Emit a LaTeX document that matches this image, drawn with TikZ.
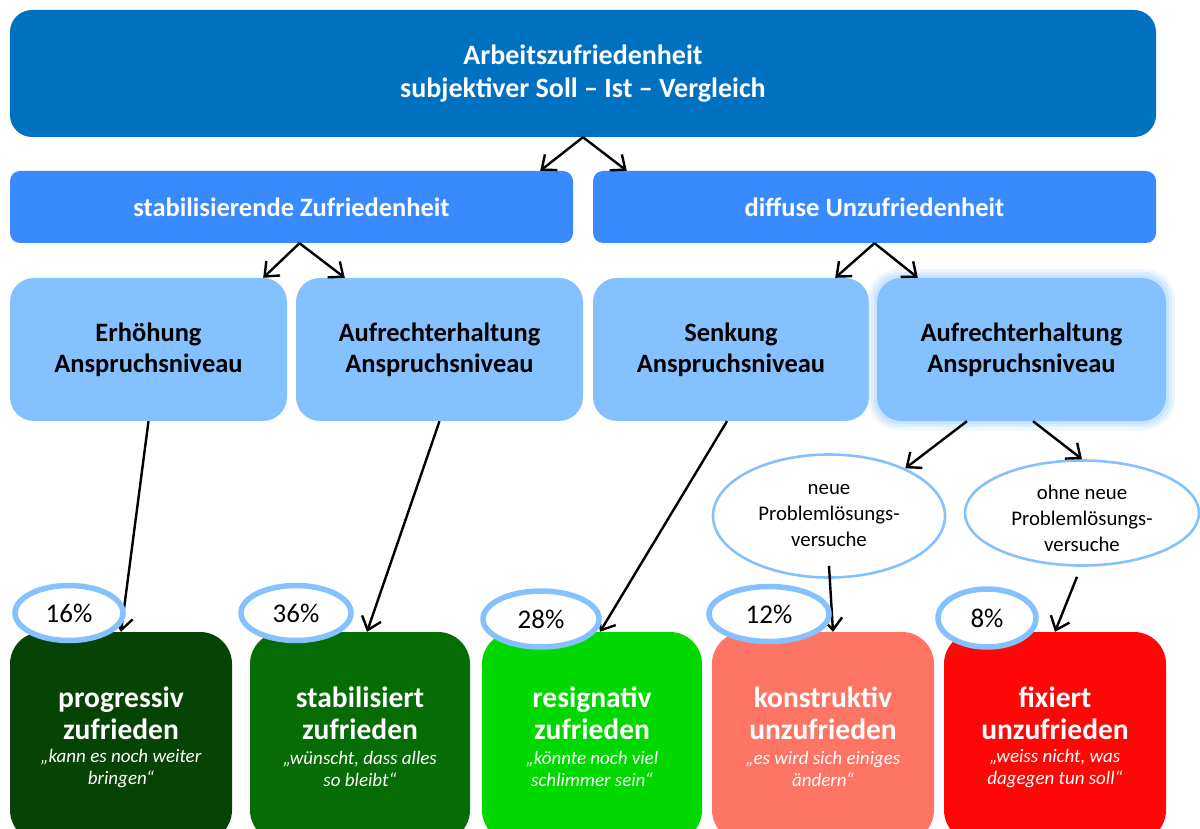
\documentclass[tikz,border=0pt]{standalone}
\usepackage{fontspec}
\setmainfont{Carlito}
\usetikzlibrary{arrows.meta,shapes.geometric,calc}
\definecolor{topblue}{HTML}{0070C0}
\definecolor{midblue}{HTML}{3A8AFF}
\definecolor{lightblue}{HTML}{85C1FF}
\definecolor{glowblue}{HTML}{B8DBFF}
\definecolor{gdark}{HTML}{054405}
\definecolor{gmid}{HTML}{066C06}
\definecolor{glight}{HTML}{00D800}
\definecolor{salmon}{HTML}{FF7565}
\definecolor{redbox}{HTML}{FF0707}
\begin{document}
\begin{tikzpicture}[x=1pt,y=-1pt,
  topbox/.style={rectangle, rounded corners=22pt, fill=topblue, inner sep=0pt, align=center,
    text=white, font=\fontsize{28}{33}\selectfont\bfseries},
  midbox/.style={rectangle, rounded corners=10pt, fill=midblue, inner sep=0pt, align=center,
    text=white, font=\fontsize{26.5}{30}\selectfont\bfseries, minimum width=563pt, minimum height=72pt},
  lvlbox/.style={rectangle, rounded corners=24pt, fill=lightblue, inner sep=0pt, align=center,
    text=black, font=\fontsize{26.5}{31}\selectfont\bfseries, minimum height=143pt},
  resbox/.style={rectangle, rounded corners=32pt, inner sep=0pt, minimum width=222pt, minimum height=210pt},
  restitle/.style={align=center, text=white, inner sep=0pt, font=\fontsize{29.5}{32}\selectfont\bfseries},
  resquote/.style={align=center, text=white, inner sep=0pt, font=\fontsize{19}{22}\selectfont\itshape},
  optell/.style={ellipse, draw=lightblue, line width=2.6pt, fill=white, inner sep=0pt},
  opttext/.style={align=center, inner sep=0pt, font=\fontsize{20.8}{26}\selectfont},
  pct/.style={ellipse, draw=lightblue, line width=5.5pt, fill=white, inner sep=0pt,
    font=\fontsize{27}{30}\selectfont},
  conn/.style={line width=2.4pt, -{Straight Barb[length=12pt,width=20pt,line width=2.4pt]}},
]
\useasboundingbox (0,0) rectangle (1200,829);
\clip (0,0) rectangle (1200,829);

% top
\node[topbox, minimum width=1146pt, minimum height=127pt] (top) at (583,73.5)
  {Arbeitszufriedenheit\\subjektiver Soll -- Ist -- Vergleich};

% level 2
\node[midbox] (sz) at (291.5,207) {stabilisierende Zufriedenheit};
\node[midbox] (du) at (874.5,207) {diffuse Unzufriedenheit};

% level 3
\node[lvlbox, minimum width=277pt] (e1) at (148.5,349.5) {Erhöhung\\Anspruchsniveau};
\node[lvlbox, minimum width=287pt] (e2) at (439.5,349.5) {Aufrechterhaltung\\Anspruchsniveau};
\node[lvlbox, minimum width=276pt] (e3) at (731,349.5) {Senkung\\Anspruchsniveau};
\fill[glowblue, opacity=0.25, rounded corners=31pt] (868,269) rectangle (1175,430);
\fill[glowblue, opacity=0.35, rounded corners=28pt] (871,272) rectangle (1172,427);
\fill[glowblue, opacity=0.5, rounded corners=26pt] (874,275) rectangle (1169,424);
\node[lvlbox, minimum width=289pt] (e4) at (1021.5,349.5) {Aufrechterhaltung\\Anspruchsniveau};

% option ellipses
\node[optell, minimum width=232pt, minimum height=123pt] (n1) at (829,516) {};
\node[opttext] (t1) at (n1) {neue\\Problemlösungs-\\versuche};
\node[optell, minimum width=234pt, minimum height=105pt] (n2) at (1082,513) {};
\node[opttext] (t2) at ([yshift=-5pt]n2.center) {ohne neue\\Problemlösungs-\\versuche};

% result boxes
\node[resbox, fill=gdark] (b1) at (121,737) {};
\node[resbox, fill=gmid, minimum width=220pt] (b2) at (360,737) {};
\node[resbox, fill=glight, minimum width=220pt] (b3) at (592,737) {};
\node[resbox, fill=salmon] (b4) at (823,737) {};
\node[resbox, fill=redbox] (b5) at (1055,737) {};

\node[restitle] (b1t) at ([yshift=-81pt]b1.north) {progressiv\\zufrieden};
\node[resquote] (b1q) at ([yshift=-137pt]b1.north) {„kann es noch weiter\\bringen“};
\node[restitle] (b2t) at ([yshift=-81pt]b2.north) {stabilisiert\\zufrieden};
\node[resquote] (b2q) at ([yshift=-137pt]b2.north) {„wünscht, dass alles\\so bleibt“};
\node[restitle] (b3t) at ([yshift=-81pt]b3.north) {resignativ\\zufrieden};
\node[resquote] (b3q) at ([yshift=-137pt]b3.north) {„könnte noch viel\\schlimmer sein“};
\node[restitle] (b4t) at ([yshift=-81pt]b4.north) {konstruktiv\\unzufrieden};
\node[resquote] (b4q) at ([yshift=-137pt]b4.north) {„es wird sich einiges\\ändern“};
\node[restitle] (b5t) at ([yshift=-81pt]b5.north) {fixiert\\unzufrieden};
\node[resquote] (b5q) at ([yshift=-137pt]b5.north) {„weiss nicht, was\\dagegen tun soll“};

% connectors
\draw[conn] (top.south) -- ([xshift=-33pt]sz.north east);
\draw[conn] (top.south) -- ([xshift=34pt]du.north west);
\draw[conn] ([xshift=8pt]sz.south) -- ([xshift=-24pt]e1.north east);
\draw[conn] ([xshift=8pt]sz.south) -- ([xshift=49pt]e2.north west);
\draw[conn] (du.south) -- ([xshift=-34pt]e3.north east);
\draw[conn] (du.south) -- ([xshift=41pt]e4.north west);
\draw[conn] ([xshift=-54.5pt]e4.south) -- (n1.32);
\draw[conn] ([xshift=11.5pt]e4.south) -- (n2.north);
\draw[conn] (e1.south) -- (b1.north);
\draw[conn] (e2.south) -- ([xshift=7pt]b2.north);
\draw[conn] ([xshift=-4pt]e3.south) -- ([xshift=8pt]b3.north);
\draw[conn] ([yshift=13pt]n1.south) -- ([xshift=10pt]b4.north);
\draw[conn] ([xshift=-5pt,yshift=-10pt]n2.south) -- (b5.north);

% percentages
\node[pct, minimum width=108pt, minimum height=55pt] (p1) at (69,613) {16\%};
\node[pct, minimum width=110pt, minimum height=55pt] (p2) at (296,613) {36\%};
\node[pct, minimum width=116pt, minimum height=56pt] (p3) at (541,619) {28\%};
\node[pct, minimum width=120pt, minimum height=55pt] (p4) at (769,614) {12\%};
\node[pct, minimum width=98pt, minimum height=58pt] (p5) at (987,618) {8\%};
\end{tikzpicture}
\end{document}
